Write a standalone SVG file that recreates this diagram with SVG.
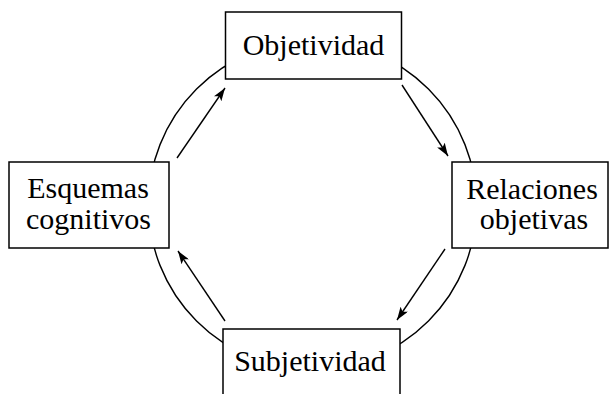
<svg xmlns="http://www.w3.org/2000/svg" width="609" height="394" viewBox="0 0 609 394">
<style>
.box{fill:#fff;stroke:#000;stroke-width:1.5}
.lbl{font-family:"Liberation Serif","Times New Roman",serif;font-size:30px;fill:#000;text-anchor:middle}
.arr{fill:none;stroke:#000;stroke-width:1.4;marker-end:url(#ah)}
</style>
<defs>
<marker id="ah" markerUnits="userSpaceOnUse" viewBox="0 0 13 9" refX="13" refY="4.5" markerWidth="13" markerHeight="9" orient="auto">
<path d="M0,0 L13,4.5 L0,9 L3,4.5 Z" fill="#000"/>
</marker>
</defs>
<rect width="609" height="394" fill="#fff"/>
<g id="connectors">
<circle cx="312.5" cy="205" r="164" fill="none" stroke="#000" stroke-width="1.4"/>
<line class="arr" x1="177" y1="158" x2="225" y2="88"/>
<line class="arr" x1="402" y1="85" x2="448" y2="156"/>
<line class="arr" x1="445" y1="249" x2="397" y2="320"/>
<line class="arr" x1="225" y1="321" x2="178" y2="251"/>
</g>
<g id="objetividad">
<rect class="box" x="225.5" y="12" width="176" height="67"/>
<text class="lbl" x="313.5" y="55">Objetividad</text>
</g>
<g id="relaciones">
<rect class="box" x="452" y="162" width="156" height="86"/>
<text class="lbl" x="532" y="199">Relaciones</text>
<text class="lbl" x="534" y="229">objetivas</text>
</g>
<g id="subjetividad">
<rect class="box" x="223" y="329" width="177" height="80"/>
<text class="lbl" x="310" y="371">Subjetividad</text>
</g>
<g id="esquemas">
<rect class="box" x="9" y="162" width="160" height="86"/>
<text class="lbl" x="88" y="198">Esquemas</text>
<text class="lbl" x="88.5" y="229">cognitivos</text>
</g>
</svg>
